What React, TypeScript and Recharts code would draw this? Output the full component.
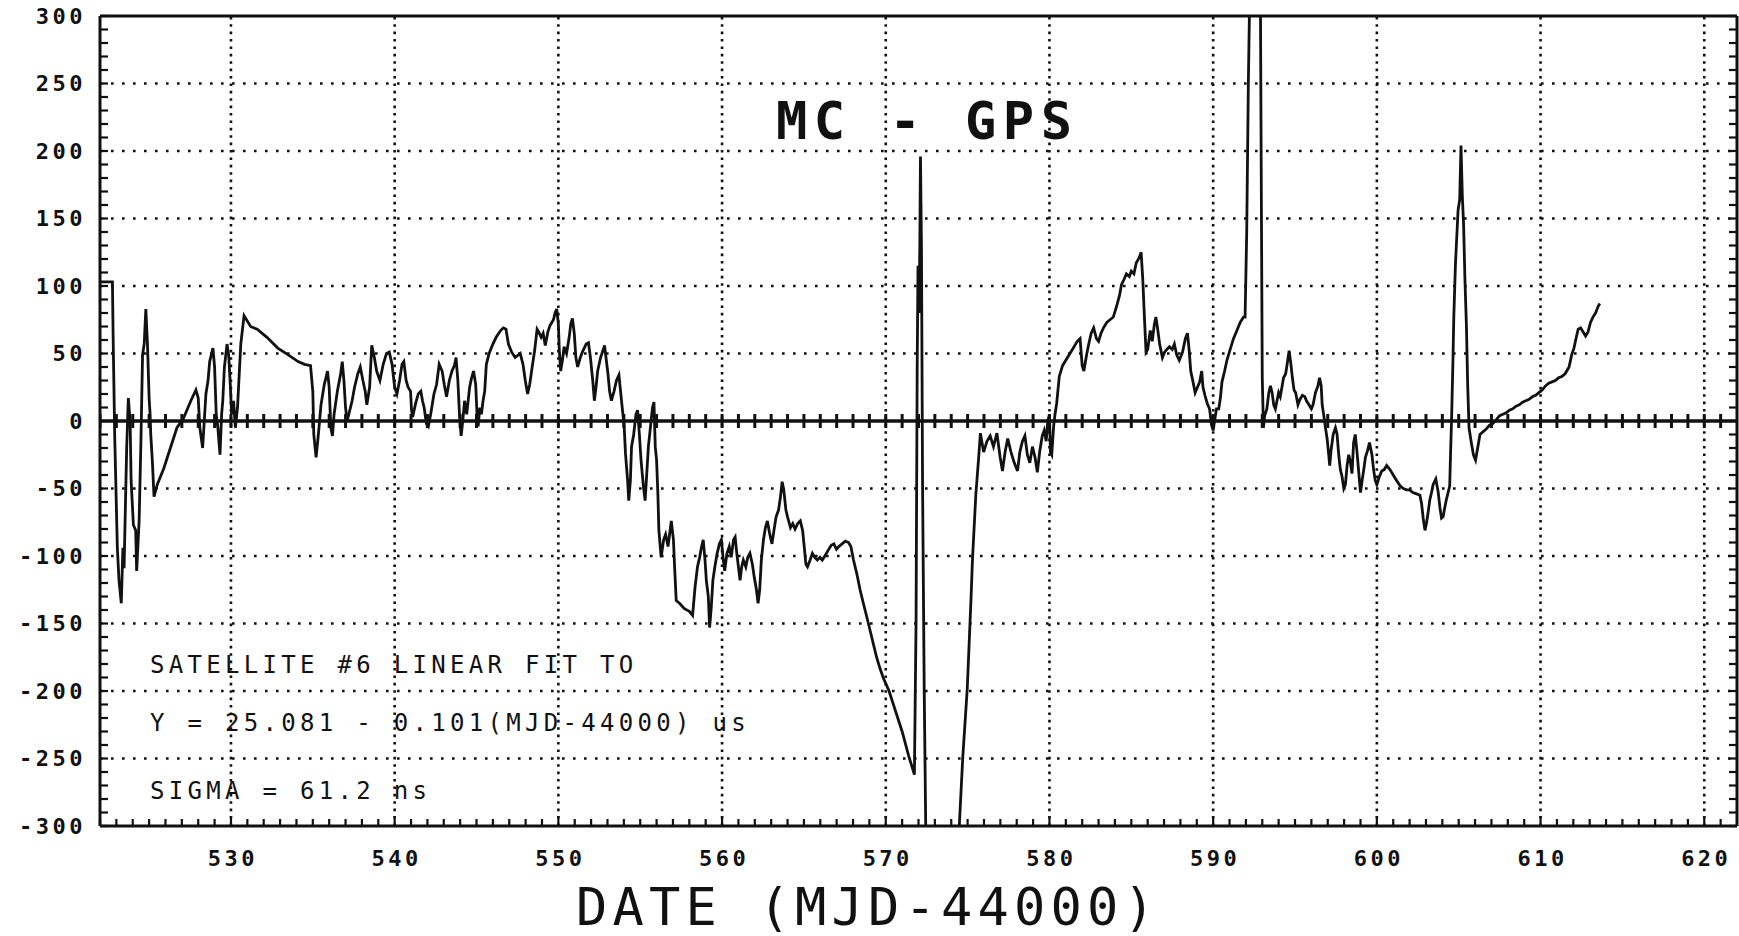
import React from 'react'
import { ComposedChart, Line, XAxis, YAxis, ReferenceLine, Scatter } from 'recharts'

// MC - GPS, satellite #6 residuals (ns) against date (MJD-44000)
const mjd = [
  522.04, 522.76, 522.8, 522.9, 523.06, 523.16, 523.3, 523.4, 523.47, 523.63, 523.73, 523.84, 523.9, 524.04, 524.18, 524.24,
  524.39, 524.5, 524.6, 524.7, 524.8, 524.9, 525.0, 525.06, 525.1, 525.2, 525.3, 525.5, 525.9, 526.3, 526.7, 527.1,
  527.55, 527.86, 528.0, 528.1, 528.27, 528.37, 528.47, 528.6, 528.7, 528.9, 529.0, 529.1, 529.2, 529.33, 529.43, 529.5,
  529.6, 529.76, 529.86, 529.96, 530.04, 530.16, 530.27, 530.4, 530.6, 530.8, 531.2, 531.6, 532.2, 532.86, 533.5, 534.1,
  534.5, 534.86, 535.0, 535.06, 535.2, 535.3, 535.4, 535.5, 535.7, 535.9, 536.0, 536.1, 536.2, 536.3, 536.5, 536.7,
  536.8, 536.9, 537.0, 537.1, 537.2, 537.4, 537.55, 537.75, 537.9, 538.06, 538.2, 538.3, 538.47,
  538.6, 538.76, 538.9, 539.1, 539.3, 539.5, 539.67, 539.84, 540.0, 540.14, 540.3, 540.45, 540.56, 540.7, 540.82, 540.97,
  541.03, 541.1, 541.28, 541.44, 541.6, 541.7, 541.8, 541.94, 542.06, 542.2, 542.4, 542.56, 542.72, 542.9, 543.03, 543.17,
  543.34, 543.5, 543.65, 543.75, 543.86, 543.96, 544.06, 544.16, 544.27, 544.4, 544.58, 544.68, 544.82, 544.95, 545.03, 545.1,
  545.2, 545.3, 545.4, 545.5, 545.6, 545.77, 546.0, 546.2, 546.47, 546.64, 546.8, 546.95, 547.15, 547.36, 547.67, 547.84,
  547.98, 548.12, 548.25, 548.4, 548.55, 548.7, 548.8, 548.95, 549.07, 549.2, 549.36, 549.5, 549.7, 549.8, 549.9, 550.0,
  550.06, 550.14, 550.25, 550.35, 550.5, 550.66, 550.76, 550.86, 550.97, 551.07, 551.18, 551.34, 551.5, 551.7, 551.84, 551.96,
  552.1, 552.2, 552.3, 552.4, 552.58, 552.72, 552.82, 552.93, 553.03, 553.13, 553.24, 553.4, 553.55, 553.7, 553.8, 553.9,
  554.02, 554.1, 554.23, 554.3, 554.4, 554.47, 554.6, 554.74, 554.84, 554.95, 555.05, 555.2, 555.3, 555.4, 555.5, 555.63,
  555.75, 555.84, 555.92, 556.0, 556.08,
  556.14, 556.28, 556.43, 556.55, 556.7, 556.9, 557.03, 557.1, 557.2, 557.4, 557.7, 558.0, 558.2, 558.35, 558.5, 558.63,
  558.75, 558.85, 558.96, 559.04, 559.16, 559.24, 559.34, 559.44, 559.56, 559.7, 559.84, 559.96, 560.06, 560.16, 560.3, 560.44,
  560.56, 560.7, 560.8, 560.9, 561.0, 561.1, 561.2, 561.3, 561.45, 561.57, 561.7, 561.85, 561.97, 562.1, 562.2, 562.3,
  562.4, 562.53, 562.65, 562.77, 562.9, 563.05, 563.17, 563.3, 563.45, 563.57, 563.67, 563.77, 563.9, 564.0, 564.18, 564.32,
  564.46, 564.62, 564.78, 564.92, 565.02, 565.12, 565.22, 565.38, 565.52, 565.66, 565.82, 565.98, 566.12, 566.28, 566.47, 566.67,
  566.83, 566.99, 567.13, 567.33, 567.53, 567.73, 567.87, 568.03, 568.23, 568.43, 568.63, 568.84, 569.04, 569.24, 569.44, 569.64,
  569.84,
  570.2, 570.6, 571.0, 571.4, 571.75, 571.85, 571.92, 571.97, 572.03, 572.08, 572.12, 572.18, 572.25, 572.35, 572.45, 573.5,
  574.45, 574.7, 574.98, 575.2, 575.3, 575.5, 575.7, 575.78, 575.98, 576.18, 576.38, 576.58, 576.79, 576.99, 577.13, 577.29,
  577.45, 577.65, 577.85, 578.05, 578.19, 578.35, 578.5, 578.65, 578.8, 578.96, 579.12, 579.26, 579.4, 579.56, 579.68, 579.8,
  579.9, 580.0, 580.06, 580.14, 580.26, 580.34, 580.44, 580.6, 580.8, 581.1, 581.4, 581.7, 581.87, 582.0, 582.1, 582.27,
  582.4, 582.55, 582.7, 582.87, 583.0, 583.15, 583.3, 583.5, 583.7, 583.9, 584.1, 584.28, 584.4, 584.56, 584.7, 584.88,
  585.0, 585.16, 585.3, 585.48, 585.6, 585.7, 585.8, 585.9, 586.0, 586.16, 586.28, 586.4, 586.5, 586.6, 586.73, 586.9,
  587.03, 587.17, 587.33, 587.5, 587.63, 587.77, 587.93, 588.13, 588.3, 588.43, 588.53, 588.63, 588.77, 588.9, 589.04, 589.18,
  589.3, 589.38, 589.5, 589.64, 589.78, 589.9, 590.0, 590.1, 590.2, 590.34, 590.44, 590.54, 590.7, 590.84, 591.04, 591.24,
  591.45, 591.65, 591.85, 591.95,
  592.05, 592.15, 592.25, 592.6, 592.88, 592.95, 593.0, 593.07, 593.15, 593.28, 593.4, 593.5, 593.6, 593.7, 593.8, 593.9,
  594.0, 594.1, 594.3, 594.43, 594.53, 594.64, 594.74, 594.84, 594.94, 595.04, 595.18, 595.3, 595.45, 595.6, 595.7, 595.85,
  596.0, 596.1, 596.25, 596.4, 596.5, 596.6, 596.66, 596.76, 596.86, 596.96, 597.06, 597.12, 597.2, 597.33, 597.47, 597.57,
  597.67, 597.77, 597.87, 597.98, 598.08, 598.18, 598.28, 598.38, 598.48, 598.58, 598.68, 598.78, 598.88, 599.0, 599.1, 599.2,
  599.3, 599.43, 599.55, 599.7, 599.8, 599.9, 600.0, 600.16, 600.3, 600.45, 600.6, 600.8, 601.0, 601.2, 601.42, 601.62,
  601.82, 602.0, 602.2, 602.43, 602.63, 602.73, 602.83, 602.94, 603.04, 603.14, 603.24, 603.34, 603.44, 603.6, 603.75, 603.85,
  603.95, 604.05, 604.15, 604.25, 604.35, 604.45, 604.5, 604.57, 604.65, 604.7, 604.8, 604.96, 605.06, 605.14, 605.22, 605.3,
  605.38, 605.47, 605.55, 605.63, 605.77, 605.9, 606.03, 606.17, 606.3, 606.48, 606.68, 606.88, 607.08, 607.3, 607.5, 607.7,
  607.9, 608.1, 608.3, 608.5, 608.7, 608.9, 609.1, 609.3, 609.5, 609.7, 609.9, 610.1, 610.3, 610.5, 610.7, 610.9,
  611.1, 611.3, 611.5, 611.74, 611.9, 612.04, 612.2, 612.3, 612.45, 612.6, 612.75, 612.9, 613.05, 613.2, 613.36, 613.52,
  613.62,
]

const offsetNs = [
  103, 103, 64, -12, -94, -118, -135, -94, -109, -20, 17, 0, -44, -77, -81, -111,
  -74, -15, 49, 57, 83, 57, 17, 5, -10, -30, -56, -47, -35, -20, -5, 2,
  15, 23, 17, -5, -20, 0, 20, 30, 44, 54, 40, 5, -5, -25, 5, 15,
  40, 57, 49, 27, 5, 15, -5, 10, 57, 78, 70, 68, 62, 54, 49, 44,
  42, 41, 22, -10, -27, -15, -2, 12, 27, 37, 25, -5, -11, 5, 22, 35,
  44, 30, 10, 0, 5, 15, 25, 35, 40, 30, 22, 12, 25,
  56, 47, 37, 30, 42, 50, 51, 42, 25, 20, 30, 42, 44, 30, 25, 22,
  8, 3, 13, 20, 22, 15, 10, -2, -4, 5, 20, 27, 42, 37, 27, 18,
  30, 37, 41, 47, 30, 5, -11, 0, 15, 5, 25, 31, 37, 27, 5, -4,
  10, 5, 15, 22, 42, 50, 57, 62, 67, 69, 68, 57, 51, 47, 50, 42,
  30, 20, 27, 40, 52, 68, 66, 62, 65, 56, 66, 71, 75, 80, 83, 72,
  52, 37, 45, 55, 50, 62, 72, 76, 65, 47, 40, 47, 52, 57, 58, 47,
  30, 15, 25, 37, 47, 52, 56, 45, 35, 22, 15, 22, 30, 34, 22, 10,
  -4, -24, -44, -59, -44, -19, -10, 5, 8, -10, -29, -49, -59, -39, -19, -4,
  10, 14, -19, -29, -54,
  -81, -101, -88, -84, -93, -74, -88, -108, -133, -135, -139, -141, -144, -123, -108, -101,
  -93, -88, -103, -118, -130, -153, -138, -118, -108, -98, -91, -88, -101, -111, -98, -93,
  -101, -88, -86, -98, -108, -118, -108, -103, -108, -101, -98, -106, -116, -125, -135, -125,
  -103, -88, -79, -74, -83, -91, -81, -71, -66, -56, -45, -51, -66, -71, -79, -76,
  -80, -76, -74, -81, -93, -106, -108, -103, -98, -101, -103, -101, -103, -100, -96, -92,
  -91, -95, -93, -91, -89, -90, -93, -103, -113, -125, -135, -145, -155, -165, -175, -183,
  -190,
  -200, -215, -230, -248, -262, -150, 40, 115, 80, 130, 196, 130, -50, -200, -310, -400,
  -310, -250, -198, -134, -102, -55, -23, -9, -23, -15, -11, -19, -9, -27, -37, -23,
  -13, -23, -31, -37, -23, -15, -11, -25, -31, -19, -27, -38, -23, -11, -7, -15,
  0, 5, -23, -25, -3, 5, 13, 33, 41, 47, 53, 59, 61, 41, 37, 49,
  57, 65, 69, 61, 59, 65, 69, 73, 75, 77, 85, 93, 101, 105, 109, 107,
  111, 109, 117, 121, 125, 105, 77, 51, 53, 67, 59, 71, 77, 69, 57, 47,
  51, 53, 55, 53, 57, 49, 45, 51, 61, 65, 53, 37, 29, 21, 25, 29,
  37, 25, 19, 13, 9, -3, -7, 1, 9, 9, 17, 29, 37, 45, 53, 61,
  67, 73, 77, 77,
  140, 250, 330, 420, 330, 150, 32, -5, 4, 9, 21, 26, 21, 12, 9, 15,
  21, 18, 32, 35, 43, 52, 43, 32, 23, 21, 12, 16, 19, 18, 15, 12,
  9, 12, 21, 26, 32, 26, 12, 4, -5, -13, -25, -33, -22, -10, -5, -10,
  -25, -36, -41, -50, -47, -33, -25, -30, -39, -16, -10, -22, -36, -53, -44, -36,
  -27, -22, -16, -25, -36, -44, -47, -41, -37, -36, -33, -36, -40, -44, -48, -50,
  -51, -51, -53, -54, -55, -61, -72, -81, -75, -67, -58, -53, -47, -43, -53, -64,
  -72, -71, -64, -58, -53, -48, -25, 4, 46, 77, 116, 156, 164, 204, 167, 145,
  105, 71, 26, -5, -16, -25, -29, -19, -10, -8, -6, -3, -2, 1, 4, 5,
  6, 8, 9, 11, 12, 14, 15, 16, 18, 19, 21, 23, 26, 28, 29, 30,
  32, 33, 35, 40, 49, 54, 63, 68, 69, 66, 63, 66, 73, 77, 80, 85,
  87,
]

// axis decorations
const xTicks = Array.from({ length: 100 }, (_, i) => 522 + i)
const yTicks = Array.from({ length: 61 }, (_, i) => -300 + i * 10)
const xGridLines = [530, 540, 550, 560, 570, 580, 590, 600, 610, 620]
const yGridLines = [-250, -200, -150, -100, -50, 50, 100, 150, 200, 250]

const titleText = 'MC - GPS'
const axisTitle = 'DATE (MJD-44000)'
const noteLines = ['SATELLITE #6 LINEAR FIT TO', 'Y = 25.081 - 0.101(MJD-44000) us', 'SIGMA = 61.2 ns']

const data = mjd.map((x, i) => ({ mjd: x, ns: offsetNs[i] }))
const zeroTicks = xTicks.map((x) => ({ mjd: x, ns: 0 }))

const INK = '#111'
const MONO = '"DejaVu Sans Mono", "Liberation Mono", monospace'
const tickFont = { fontFamily: MONO, fontSize: 22, fontWeight: 700, letterSpacing: '3.5px', fill: INK }

const BottomTick = ({ x, y, payload }: any) => {
  const v = payload.value
  const major = v % 10 === 0
  return (
    <g>
      <line x1={x} y1={y} x2={x} y2={y - (major ? 10 : 7)} stroke={INK} strokeWidth={2.2} />
      {major && (
        <text x={x + 2} y={y + 40} textAnchor="middle" style={tickFont}>
          {v}
        </text>
      )}
    </g>
  )
}

const TopTick = ({ x, y }: any) => (
  <line x1={x} y1={y} x2={x} y2={y + 7} stroke={INK} strokeWidth={2.2} />
)

const LeftTick = ({ x, y, payload }: any) => {
  const v = payload.value
  return (
    <g>
      <line x1={x} y1={y} x2={x + 8} y2={y} stroke={INK} strokeWidth={2.2} />
      {v % 50 === 0 && (
        <text x={x - 14} y={y} dy="0.36em" textAnchor="end" style={tickFont}>
          {v}
        </text>
      )}
    </g>
  )
}

const RightTick = ({ x, y }: any) => (
  <line x1={x} y1={y} x2={x - 8} y2={y} stroke={INK} strokeWidth={2.2} />
)

const ZeroTick = (p: any) => (
  <line x1={p.cx} y1={p.cy - 7} x2={p.cx} y2={p.cy + 7} stroke={INK} strokeWidth={3} />
)

export default function App() {
  return (
    <div style={{ position: 'relative', width: 1739, height: 936, background: '#fff' }}>
      <style>{'body{margin:0;background:#fff}'}</style>
      <ComposedChart width={1739} height={936} margin={{ top: 15, right: 1, bottom: 0, left: 0 }}>
        <XAxis
          dataKey="mjd"
          type="number"
          domain={[522, 622]}
          allowDataOverflow
          ticks={xTicks}
          interval={0}
          height={110}
          tickSize={0}
          tickMargin={0}
          tickLine={false}
          axisLine={{ stroke: INK, strokeWidth: 3 }}
          tick={<BottomTick />}
        />
        <XAxis
          xAxisId="top"
          orientation="top"
          type="number"
          domain={[522, 622]}
          allowDataOverflow
          ticks={xTicks}
          interval={0}
          height={1}
          tickSize={0}
          tickMargin={0}
          tickLine={false}
          axisLine={{ stroke: INK, strokeWidth: 3 }}
          tick={<TopTick />}
        />
        <YAxis
          type="number"
          domain={[-300, 300]}
          allowDataOverflow
          ticks={yTicks}
          interval={0}
          width={100}
          tickSize={0}
          tickMargin={0}
          tickLine={false}
          axisLine={{ stroke: INK, strokeWidth: 3 }}
          tick={<LeftTick />}
        />
        <YAxis
          yAxisId="right"
          orientation="right"
          type="number"
          domain={[-300, 300]}
          allowDataOverflow
          ticks={yTicks}
          interval={0}
          width={1}
          tickSize={0}
          tickMargin={0}
          tickLine={false}
          axisLine={{ stroke: INK, strokeWidth: 3 }}
          tick={<RightTick />}
        />
        {yGridLines.map((v) => (
          <ReferenceLine key={`h${v}`} y={v} stroke={INK} strokeWidth={2.6} strokeDasharray="2.6 8.4" />
        ))}
        {xGridLines.map((v) => (
          <ReferenceLine key={`v${v}`} x={v} stroke={INK} strokeWidth={2.6} strokeDasharray="2.6 4.8" />
        ))}
        <ReferenceLine y={0} stroke={INK} strokeWidth={3.5} />
        <Scatter data={zeroTicks} dataKey="ns" shape={<ZeroTick />} isAnimationActive={false} />
        <Line
          data={data}
          dataKey="ns"
          type="linear"
          stroke={INK}
          strokeWidth={2.8}
          strokeLinejoin="miter"
          dot={false}
          activeDot={false}
          isAnimationActive={false}
        />
      </ComposedChart>
      <svg
        width={1739}
        height={936}
        style={{ position: 'absolute', left: 0, top: 0, pointerEvents: 'none' }}
      >
        <text
          x={776}
          y={139}
          style={{ fontFamily: MONO, fontSize: 52, fontWeight: 700, letterSpacing: '6.5px', fill: INK }}
        >
          {titleText}
        </text>
        <text x={576} y={925} style={{ fontFamily: MONO, fontSize: 52, letterSpacing: '5.2px', fill: INK }}>
          {axisTitle}
        </text>
        {noteLines.map((t, i) => (
          <text
            key={t}
            x={150}
            y={[673, 731, 799][i]}
            style={{ fontFamily: MONO, fontSize: 24, letterSpacing: '4.3px', fill: INK }}
          >
            {t}
          </text>
        ))}
      </svg>
    </div>
  )
}
